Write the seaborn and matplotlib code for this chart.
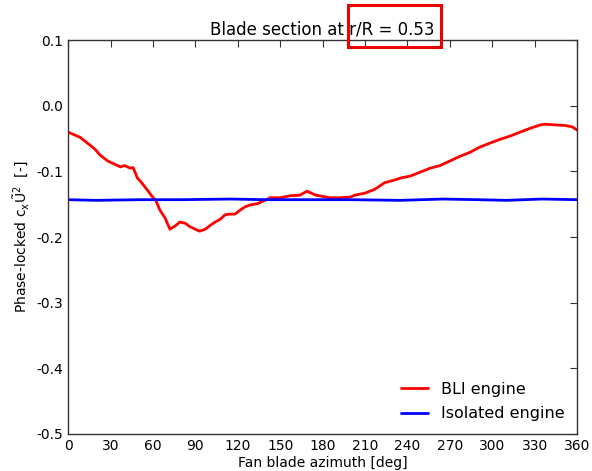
import matplotlib
matplotlib.use("Agg")
import matplotlib.pyplot as plt
import seaborn as sns
import pandas as pd
from matplotlib.patches import Rectangle

azimuth_bli = [0, 8.5, 15.6, 19, 22.6, 28, 33, 37, 40, 44, 46, 49, 52, 57, 59, 62, 65, 68.6, 71, 72,
               75.7, 79, 83, 86, 90, 93, 97, 100, 104, 107.5, 111, 114.6, 118, 121.6, 125, 128.7, 134,
               139, 143, 150, 157, 164, 169, 175, 185, 192, 199.5, 203, 210, 217, 224, 231, 235, 242,
               249, 256, 263, 270, 277, 284, 291, 298, 305.5, 312.6, 319.7, 327, 334, 337, 344.5, 351.6,
               356.5, 360]
bli = [-0.040, -0.048, -0.060, -0.066, -0.075, -0.084, -0.089, -0.093, -0.091, -0.095, -0.094, -0.110,
       -0.117, -0.131, -0.137, -0.144, -0.159, -0.171, -0.183, -0.188, -0.183, -0.177, -0.179, -0.184,
       -0.188, -0.191, -0.188, -0.183, -0.177, -0.173, -0.166, -0.165, -0.165, -0.159, -0.154, -0.151,
       -0.149, -0.144, -0.140, -0.140, -0.137, -0.136, -0.130, -0.136, -0.140, -0.140, -0.139, -0.136,
       -0.133, -0.127, -0.117, -0.113, -0.110, -0.107, -0.101, -0.095, -0.091, -0.084, -0.077, -0.071,
       -0.063, -0.057, -0.051, -0.046, -0.040, -0.034, -0.029, -0.028, -0.029, -0.030, -0.032, -0.037]

azimuth_iso = [0, 20, 50, 80, 115, 140, 165, 200, 235, 265, 290, 310, 335, 360]
iso = [-0.143, -0.144, -0.143, -0.143, -0.142, -0.143, -0.143, -0.143, -0.144, -0.142, -0.143, -0.144,
       -0.142, -0.143]

xticks = list(range(0, 361, 30))
yticks = [-0.5, -0.4, -0.3, -0.2, -0.1, 0.0, 0.1]

df = pd.concat([
    pd.DataFrame({"azimuth": azimuth_bli, "value": bli, "case": "BLI engine"}),
    pd.DataFrame({"azimuth": azimuth_iso, "value": iso, "case": "Isolated engine"}),
])

sns.set_style("white")
plt.rcParams["font.family"] = ["DejaVu Sans"]
plt.rcParams["text.color"] = "black"
plt.rcParams["axes.labelcolor"] = "black"
plt.rcParams["xtick.color"] = "black"
plt.rcParams["ytick.color"] = "black"

fig = plt.figure(figsize=(5.92, 4.71), dpi=100)
ax = fig.add_axes([0.115, 0.0786, 0.86, 0.836])
sns.lineplot(data=df, x="azimuth", y="value", hue="case",
             palette={"BLI engine": "#ff0000", "Isolated engine": "#0000ff"},
             linewidth=2, ax=ax, sort=True, estimator=None)

ax.set_xlim(0, 360)
ax.set_ylim(-0.5, 0.1)
ax.set_xticks(xticks)
ax.set_yticks(yticks)
ax.set_yticklabels([f"{v:.1f}" for v in yticks])
ax.tick_params(direction="in", top=True, right=True, length=5, labelsize=10, color="#333333")
for s in ax.spines.values():
    s.set_color("#333333")
    s.set_linewidth(1.0)
ax.set_xlabel("Fan blade azimuth [deg]", fontsize=10, labelpad=2)
ax.set_ylabel(r"Phase-locked $\mathrm{c}_\mathrm{x}\tilde{\mathrm{U}}^2$  [-]", fontsize=10, labelpad=4)
ax.set_title("Blade section at r/R = 0.53", fontsize=12, pad=4, color="black")
leg = ax.legend(loc="lower right", frameon=False, fontsize=11.5, handlelength=1.7,
                borderaxespad=0.4, labelspacing=0.6)
leg.set_title(None)

fig.patches.append(Rectangle((348 / 592, 1 - 47 / 471), 93 / 592, 42 / 471,
                             transform=fig.transFigure, fill=False,
                             edgecolor="#ee0000", linewidth=2.2, zorder=10))

fig.savefig("out.png", dpi=100)
